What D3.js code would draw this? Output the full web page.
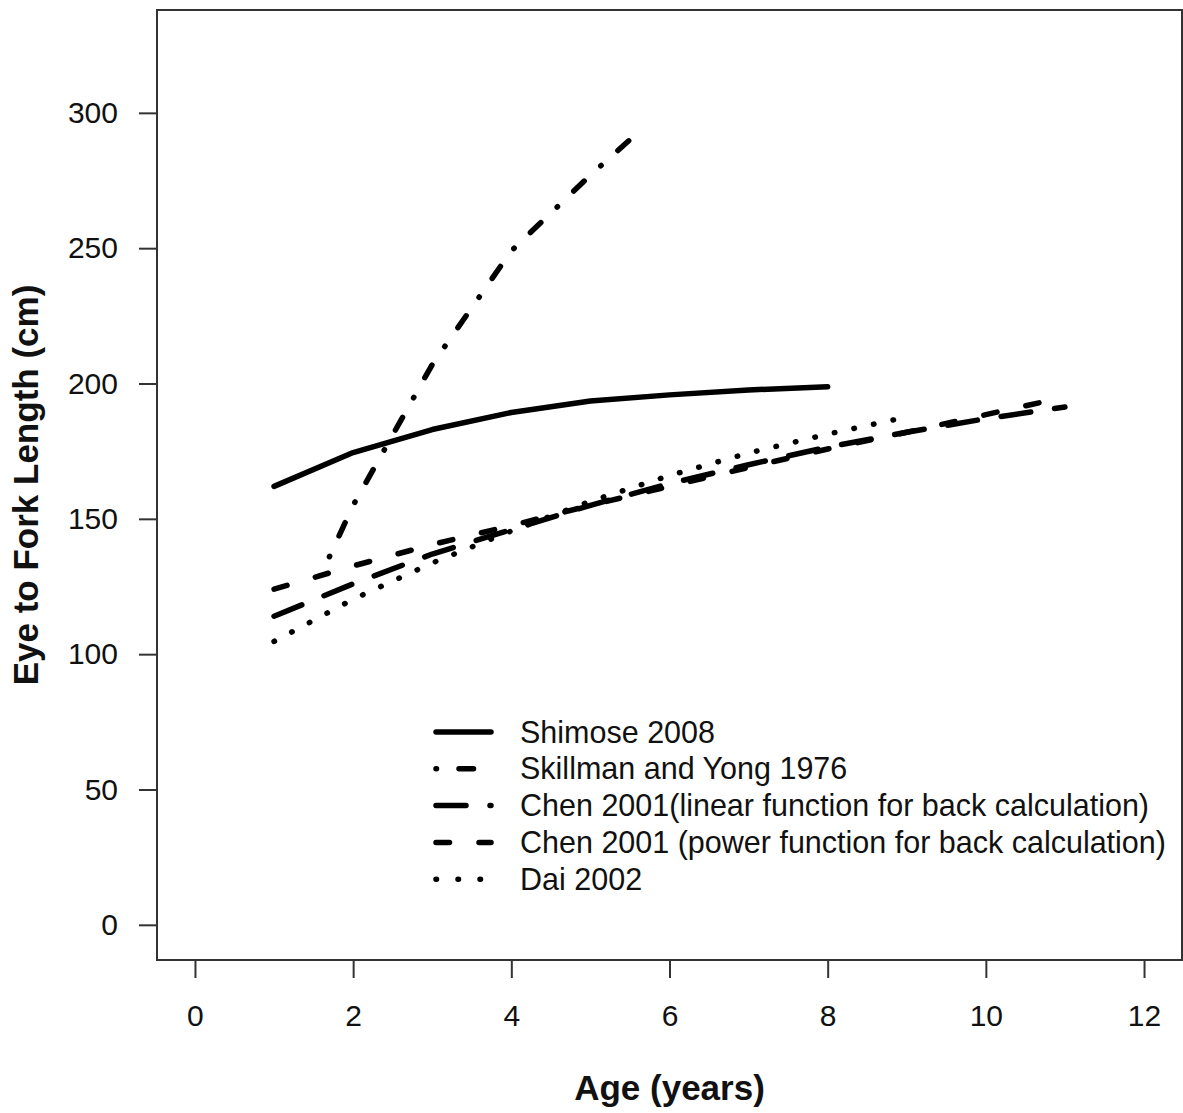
<!DOCTYPE html>
<html>
<head>
<meta charset="utf-8">
<script src="https://cdn.jsdelivr.net/npm/d3@7"></script>
<style>
  body { margin: 0; background: white; }
  text { font-family: "Liberation Sans", Arial, sans-serif; fill: #111; }
</style>
</head>
<body>
<svg width="1183" height="1113"></svg>
<script>
// growth curves (age in years, eye-to-fork length in cm)
const ageShimose = [1, 2, 3, 4, 5, 6, 7, 8];
const lenShimose = [162, 174.5, 183, 189.3, 193.5, 195.8, 197.6, 198.8];

const ageSkillman = [1.7, 2, 3, 4, 5, 5.65];
const lenSkillman = [136, 155, 207, 249, 277, 294];

const ageChenLinear = [1, 2, 3, 4, 5, 6, 7, 8, 9, 10, 11];
const lenChenLinear = [114, 126, 137, 146, 155, 163, 170, 176.5, 182, 187, 191.3];

const ageChenPower = [1, 2, 3, 4, 5, 6, 7, 8, 9, 10, 11];
const lenChenPower = [124, 132.6, 140.5, 147.5, 155, 162, 169, 175.8, 182, 188.5, 195];

const ageDai = [1, 2, 3, 4, 5, 6, 7, 8, 9];
const lenDai = [104.7, 120.3, 133.7, 145.5, 156.5, 166, 174.3, 181.3, 187.6];

const legendLabels = [
    "Shimose 2008",
    "Skillman and Yong 1976",
    "Chen 2001(linear function for back calculation)",
    "Chen 2001 (power function for back calculation)",
    "Dai 2002"
];

const xTicks = [0, 2, 4, 6, 8, 10, 12];
const yTicks = [0, 50, 100, 150, 200, 250, 300];

const svg = d3.select('svg');

// plot box like R's default (4% extension of xlim 0-12, ylim 0-325)
const box = { left: 157, right: 1182, top: 10, bottom: 960 };

const xScale = d3.scaleLinear()
      .domain([-0.48, 12.48])
      .range([box.left, box.right]);

const yScale = d3.scaleLinear()
      .domain([-13, 338])
      .range([box.bottom, box.top]);

const series = [
    { ages: ageShimose, lens: lenShimose, dash: null },
    { ages: ageSkillman, lens: lenSkillman, dash: '0.5 22.5 14.5 22.5' },
    { ages: ageChenLinear, lens: lenChenLinear, dash: '30 24' },
    { ages: ageChenPower, lens: lenChenPower, dash: '13.5 29.5' },
    { ages: ageDai, lens: lenDai, dash: '0.5 19.5', legendDash: '0.5 21.5' }
];

const lineWidth = 5.5;

const line = d3.line()
      .x(d => xScale(d[0]))
      .y(d => yScale(d[1]));

// curves
const curveGroup = svg.append('g');
series.forEach(s => {
    const points = s.ages.map((a, i) => [a, s.lens[i]]);
    curveGroup.append('path')
        .attr('d', line(points))
        .attr('fill', 'none')
        .attr('stroke', '#000')
        .attr('stroke-width', lineWidth)
        .attr('stroke-linecap', 'round')
        .attr('stroke-linejoin', 'round')
        .attr('stroke-dasharray', s.dash);
});

// axes
const xAxis = d3.axisBottom(xScale)
      .tickValues(xTicks)
      .tickSize(18)
      .tickPadding(27);
const xAxisGroup = svg.append('g')
      .attr('transform', `translate(0, ${box.bottom})`)
      .call(xAxis);
xAxisGroup.select('.domain').remove();

const yAxis = d3.axisLeft(yScale)
      .tickValues(yTicks)
      .tickSize(18)
      .tickPadding(21);
const yAxisGroup = svg.append('g')
      .attr('transform', `translate(${box.left}, 0)`)
      .call(yAxis);
yAxisGroup.select('.domain').remove();

svg.selectAll('.tick line')
    .attr('stroke', '#333')
    .attr('stroke-width', 2);
svg.selectAll('.tick text')
    .attr('font-family', '"Liberation Sans", Arial, sans-serif')
    .attr('font-size', 30)
    .attr('fill', '#111');

// plot frame
svg.append('rect')
    .attr('x', box.left)
    .attr('y', box.top)
    .attr('width', box.right - box.left)
    .attr('height', box.bottom - box.top)
    .attr('fill', 'none')
    .attr('stroke', '#333')
    .attr('stroke-width', 2);

// axis titles
svg.append('text')
    .attr('x', (box.left + box.right) / 2)
    .attr('y', 1100)
    .attr('text-anchor', 'middle')
    .attr('font-size', 35)
    .attr('font-weight', 'bold')
    .text('Age (years)');

svg.append('text')
    .attr('transform', `translate(38, ${(box.top + box.bottom) / 2}) rotate(-90)`)
    .attr('text-anchor', 'middle')
    .attr('font-size', 35)
    .attr('font-weight', 'bold')
    .text('Eye to Fork Length (cm)');

// legend
const legendX = 436, legendLen = 55, legendTextX = 520;
const legendY0 = 732, legendStep = 36.8;
const legendGroup = svg.append('g');
series.forEach((s, i) => {
    const y = legendY0 + i * legendStep;
    legendGroup.append('path')
        .attr('d', `M${legendX},${y}H${legendX + legendLen}`)
        .attr('stroke', '#000')
        .attr('stroke-width', lineWidth)
        .attr('stroke-linecap', 'round')
        .attr('stroke-dasharray', s.legendDash || s.dash);
    legendGroup.append('text')
        .attr('x', legendTextX)
        .attr('y', y + 10.5)
        .attr('font-size', 30.5)
        .text(legendLabels[i]);
});
</script>
</body>
</html>
